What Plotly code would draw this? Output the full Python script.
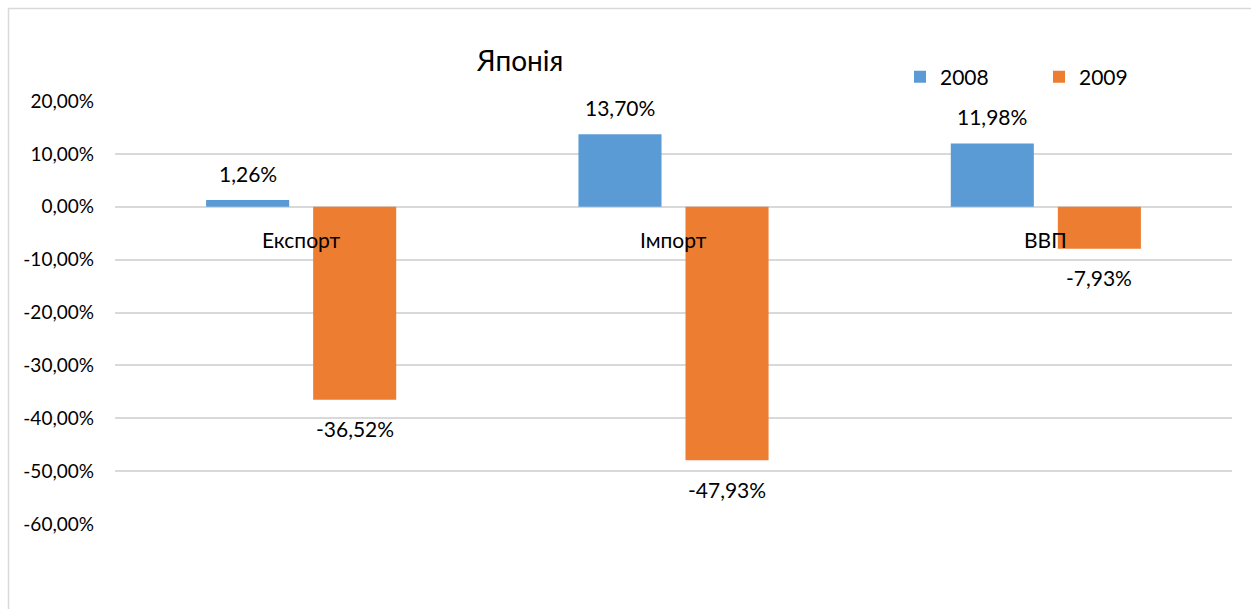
import plotly.graph_objects as go

categories = ["Експорт", "Імпорт", "ВВП"]
series_names = ["2008", "2009"]
values_2008 = [1.26, 13.70, 11.98]
values_2009 = [-36.52, -47.93, -7.93]
colors = ["#5B9BD5", "#ED7D31"]
tick_values = [20, 10, 0, -10, -20, -30, -40, -50, -60]
title_text = "Японія"


def fmt(v):
    return f"{v:.2f}%".replace(".", ",")


tick_text = [fmt(v) for v in tick_values]

FONT = "Lato, Calibri, sans-serif"
fig = go.Figure()
for name, vals, col in zip(series_names, [values_2008, values_2009], colors):
    fig.add_trace(go.Bar(name=name, x=categories, y=vals, marker_color=col,
                         marker_line_width=0))

ML, MR, MT, MB = 115, 19, 101, 85
W, H = 1251, 609
pw, ph = W - ML - MR, H - MT - MB

annotations = []
# category labels at the zero line
for c in categories:
    annotations.append(dict(x=c, y=0, xref="x", yref="y", text=c, showarrow=False,
                            yanchor="middle", yshift=-33,
                            font=dict(size=21, color="#000000", family=FONT)))
# data labels
slot = 107
for i, vals in enumerate([values_2008, values_2009]):
    shift = (-0.5 + i) * slot
    for c, v in zip(categories, vals):
        annotations.append(dict(x=c, y=v, xref="x", yref="y", text=fmt(v), showarrow=False,
                                xshift=shift, yanchor="middle",
                                yshift=27 if v >= 0 else -29,
                                font=dict(size=21, color="#000000", family=FONT)))
annotations.append(dict(x=(519 - ML) / pw, y=1 + (101 - 60) / ph, xref="paper", yref="paper",
                        text=title_text, showarrow=False, xanchor="center", yanchor="middle",
                        font=dict(size=28, color="#000000", family=FONT)))

fig.update_layout(
    width=W, height=H,
    margin=dict(l=ML, r=MR, t=MT, b=MB, autoexpand=False),
    paper_bgcolor="white", plot_bgcolor="white",
    barmode="group", bargap=0.425, bargroupgap=0.224,
    font=dict(family=FONT, size=19, color="#000000"),
    showlegend=True,
    legend=dict(orientation="h", x=(900 - ML) / pw, xanchor="left",
                y=1 + (101 - 77) / ph, yanchor="middle",
                font=dict(size=21, color="#000000", family=FONT),
                entrywidth=94, entrywidthmode="pixels",
                bgcolor="rgba(0,0,0,0)"),
    annotations=annotations,
    shapes=[dict(type="rect", xref="paper", yref="paper",
                 x0=(8.5 - ML) / pw, x1=1.2, y0=-0.5, y1=1 + (101 - 8.5) / ph,
                 line=dict(color="#D9D9D9", width=1.5), fillcolor="rgba(0,0,0,0)", layer="below")],
)
fig.update_xaxes(showticklabels=False, showgrid=False, zeroline=False, showline=False, ticks="")
fig.update_yaxes(range=[-60, 20], tickvals=tick_values, ticktext=tick_text,
                 showgrid=True, gridcolor="#D9D9D9", gridwidth=1.5,
                 zeroline=True, zerolinecolor="#D9D9D9", zerolinewidth=1.5,
                 showline=False, ticks="", ticklabelstandoff=20,
                 tickfont=dict(size=19, color="#000000", family=FONT))

fig.write_html("out.html")
